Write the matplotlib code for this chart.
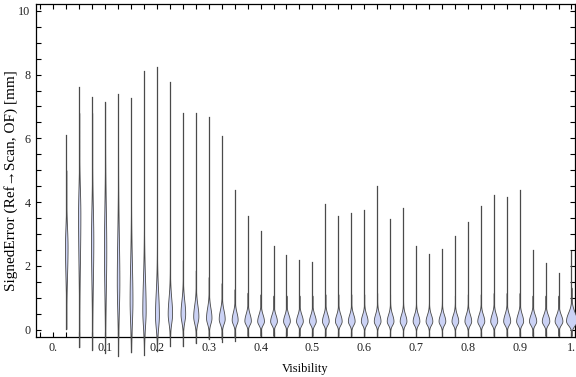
import numpy as np
import matplotlib.pyplot as plt
from matplotlib.ticker import FixedLocator

plt.rcParams['font.family'] = ['Liberation Serif', 'DejaVu Serif']

# Data: one violin per visibility bin
visibility = [0.025 * k for k in range(1, 41)]
err_max = [6.11, 7.61, 7.29, 7.13, 7.40, 7.26, 8.12, 8.24, 7.78, 6.80,
           6.80, 6.67, 6.08, 4.39, 3.57, 3.08, 2.63, 2.35, 2.19, 2.13,
           3.94, 3.57, 3.66, 3.76, 4.52, 3.48, 3.83, 2.61, 2.38, 2.53,
           2.95, 3.38, 3.89, 4.23, 4.16, 4.37, 2.50, 2.09, 1.78, 2.48]
err_min = [0.02, -0.55, -0.63, -0.73, -0.82, -0.71, -0.78, -0.68, -0.52, -0.52,
           -0.42, -0.29, -0.40, -0.37, -0.21, -0.2, -0.2, -0.2, -0.2, -0.2,
           -0.2, -0.2, -0.2, -0.2, -0.2, -0.2, -0.2, -0.2, -0.2, -0.2,
           -0.2, -0.2, -0.2, -0.2, -0.2, -0.2, -0.2, -0.2, -0.2, -0.2]
# mode of each distribution, spread below / above it, peak density (fraction of bin width)
err_mode = [2.6, 3.6, 2.8, 2.5, 1.5, 0.9, 0.6, 0.45, 0.5, 0.5,
            0.42, 0.37, 0.34, 0.31, 0.28, 0.27, 0.27, 0.27, 0.27, 0.27,
            0.27, 0.27, 0.27, 0.27, 0.27, 0.27, 0.27, 0.27, 0.27, 0.27,
            0.27, 0.27, 0.27, 0.27, 0.27, 0.27, 0.27, 0.27, 0.27, 0.28]
spread_lo = [0.9, 1.5, 1.3, 1.3, 0.9, 0.7, 0.5, 0.4, 0.3, 0.26,
             0.22, 0.18, 0.16, 0.14, 0.12, 0.12, 0.12, 0.12, 0.12, 0.12,
             0.12, 0.12, 0.12, 0.12, 0.12, 0.12, 0.12, 0.12, 0.12, 0.12,
             0.12, 0.12, 0.12, 0.12, 0.12, 0.12, 0.12, 0.12, 0.12, 0.14]
spread_hi = [0.6, 0.8, 1.0, 1.3, 1.4, 1.2, 1.0, 0.75, 0.5, 0.42,
             0.36, 0.32, 0.28, 0.24, 0.22, 0.21, 0.2, 0.2, 0.2, 0.2,
             0.21, 0.21, 0.21, 0.21, 0.22, 0.21, 0.21, 0.2, 0.2, 0.2,
             0.2, 0.21, 0.21, 0.22, 0.22, 0.22, 0.2, 0.2, 0.2, 0.26]
peak = [0.1, 0.09, 0.09, 0.09, 0.1, 0.11, 0.13, 0.15, 0.17, 0.18,
        0.2, 0.21, 0.23, 0.23, 0.25, 0.26, 0.26, 0.26, 0.26, 0.26,
        0.26, 0.26, 0.26, 0.26, 0.26, 0.26, 0.26, 0.26, 0.26, 0.26,
        0.26, 0.26, 0.27, 0.27, 0.27, 0.27, 0.28, 0.29, 0.3, 0.42]
bin_width = 0.025

fig = plt.figure(figsize=(5.76, 3.77), dpi=100)
ax = fig.add_axes([0.0625, 0.107, 0.936, 0.882])

fill_col = '#cbd2f5'
edge_col = '#4a4a4a'
for x, lo, hi, c, sl, su, p in zip(visibility, err_min, err_max, err_mode,
                                   spread_lo, spread_hi, peak):
    ax.plot([x, x], [lo, hi], color=edge_col, lw=0.9, clip_on=False, zorder=2)
    y = np.linspace(max(lo, c - 4 * sl), min(hi, c + 4 * su), 200)
    s = np.where(y < c, sl, su)
    w = p * bin_width * np.exp(-0.5 * ((y - c) / s) ** 2)
    ax.fill_betweenx(y, x - w, x + w, facecolor=fill_col, edgecolor=edge_col,
                     lw=0.6, clip_on=False, zorder=3)

ax.set_xlim(-0.0334, 1.0071)
ax.set_ylim(-0.22, 10.21)

ax.xaxis.set_major_locator(FixedLocator(np.arange(0, 1.01, 0.1)))
ax.xaxis.set_minor_locator(FixedLocator(np.arange(-0.025, 1.01, 0.025)))
ax.set_xticklabels(['0.', '0.1', '0.2', '0.3', '0.4', '0.5', '0.6', '0.7',
                    '0.8', '0.9', '1.'])
ax.yaxis.set_major_locator(FixedLocator(np.arange(0, 10.1, 2)))
ax.yaxis.set_minor_locator(FixedLocator(np.arange(0, 10.3, 0.5)))
ax.set_yticklabels(['0', '2', '4', '6', '8', '10'])

ax.tick_params(which='both', direction='in', top=True, right=True,
               length=3.3, width=0.8, labelsize=8.7, labelcolor='#222222', pad=4)
for sp in ax.spines.values():
    sp.set_linewidth(0.9)

ax.set_xlabel('Visibility', fontsize=8.9, labelpad=6)
ax.set_ylabel('SignedError (Ref\u2192Scan, OF) [mm]', fontsize=11,
              va='center')
ax.yaxis.set_label_coords(-0.046, 0.47)

fig.savefig('out.png', dpi=100)
